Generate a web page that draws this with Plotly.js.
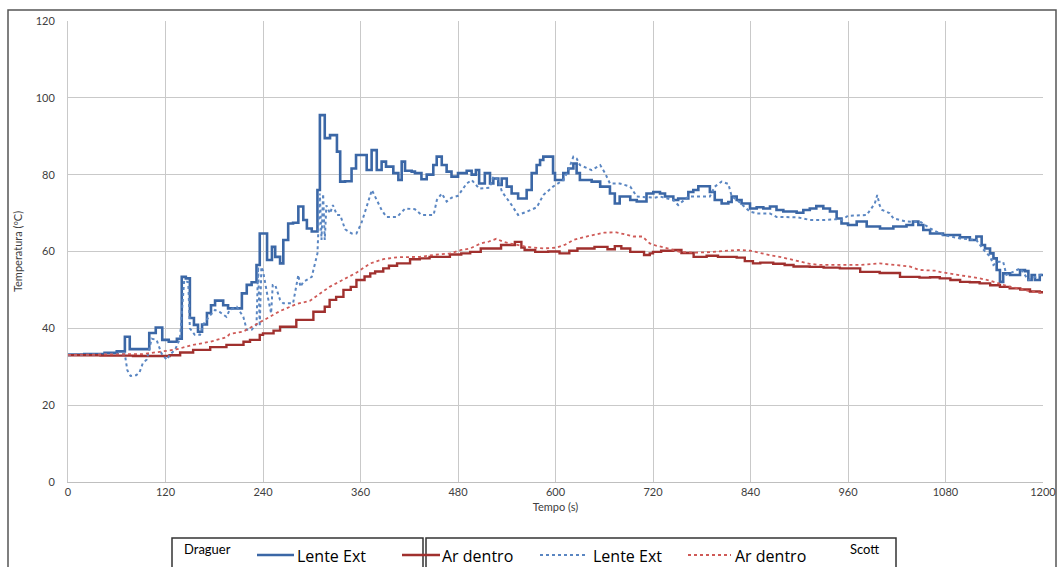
<!DOCTYPE html>
<html>
<head>
<meta charset="utf-8">
<script src="https://cdn.plot.ly/plotly-3.0.1.min.js"></script>
<style>
  html, body { margin: 0; padding: 0; background: #ffffff; }
  #chart { width: 1059px; height: 567px; }
</style>
</head>
<body>
<div id="chart"></div>
<script>
// ---- Data ----
const xTicks = [0, 120, 240, 360, 480, 600, 720, 840, 960, 1080, 1200];
const yTicks = [0, 20, 40, 60, 80, 100, 120];

// Draguer - Lente Ext (solid blue, stepped)
const draguerLenteT = [0,20,45,60,70,76,100,108,116,124,134,140,145,150,155,160,165,171,176,181,191,197,203,214,220,226,232,236,245,251,255,261,265,271,277,283.5,289.6,294,300,307,310,316,322.5,331,335,341,349,354.5,367.6,373.7,380,386,391.4,400.4,406.6,410.7,414.8,423,427,435,441.5,449.6,453.8,460,466,472,480,490.7,496.8,502,506,513,519.4,523.5,529.6,533.8,540,546,554,564.5,570.7,576.8,581,585,597,599.4,609.6,615.8,622,626,630,644.5,655,667,673,679,692,700,712,720.4,728.6,734.8,745,751,763.5,769.6,775.8,790,796,804.5,812.7,816.8,823,829,839.4,847.6,855.8,864,872,880.4,896.8,905,913,921,929.6,937.8,946,952,960,970.7,983,999.4,1015.8,1032,1040,1046.6,1052.7,1061,1077,1097.8,1110,1118,1124.5,1128.6,1134.8,1139,1143,1147,1151,1159.4,1171.7,1177.8,1182,1186,1190,1196,1200];
const draguerLenteV = [33.2,33.3,33.6,34.0,37.8,34.6,38.8,40.2,37.0,36.5,37.3,53.4,53.0,42.7,40.9,39.1,41.0,44.0,46.0,47.2,46.0,45.2,45.2,49.1,51.3,52.0,56.5,64.7,57.8,61.2,58.6,56.9,63.0,67.3,67.5,71.7,68.2,66.0,65.2,76.0,95.5,89.5,90.3,86.0,78.2,78.3,81.6,85.1,81.2,86.4,81.2,83.4,82.1,80.4,78.6,83.4,81.0,80.8,80.4,78.8,80.0,82.5,84.7,82.5,80.8,79.5,80.4,81.0,80.0,81.2,77.7,80.4,77.7,79.0,77.3,79.0,76.9,75.1,73.8,76.0,80.4,82.5,83.8,84.7,80.4,78.6,80.4,81.6,82.9,80.4,78.6,78.2,76.9,75.1,72.5,74.3,73.4,73.0,75.1,75.5,75.1,74.3,73.4,73.8,75.5,76.0,77.0,75.5,73.4,72.5,72.9,74.3,73.4,72.5,71.2,71.5,71.2,71.7,70.8,70.4,70.1,70.8,71.2,71.8,71.2,70.4,68.6,67.3,66.9,67.8,66.5,66.0,66.5,66.9,67.8,66.9,65.6,64.7,64.3,63.7,63.0,63.9,61.7,60.8,59.5,58.2,55.2,52.1,54.3,53.9,55.2,54.9,52.6,53.9,52.6,53.9,53.9];

// Draguer - Ar dentro (solid red, stepped)
const draguerArT = [0,40,80,113,125,138,154,175,195,216,224,236,240,253,261,281,302,316,322,330,339,348,355,365,372,378,388,395,405,421,433,445,458,470,484,495,508,519,533,544,550,558,562,575,591,605,617,627,640,648,664,673,681,692,700,709,716,720,730,745,755,770,786,800,811,823,833,843,852,868,882,893,913,930,950,975,999,1024,1048,1061,1073,1086,1098,1110,1122,1135,1147,1159,1172,1184,1196,1200];
const draguerArV = [33.0,32.9,32.8,32.8,33.0,33.7,34.4,35.1,35.7,36.5,37.0,38.3,38.7,39.4,40.4,42.2,44.3,45.6,47.4,48.2,50.0,50.8,52.6,53.5,54.3,54.8,55.6,56.3,56.9,58.0,58.2,58.6,58.6,59.2,59.5,59.9,60.8,60.8,61.7,61.7,62.5,61.0,60.4,59.9,60.0,59.5,60.2,60.8,60.8,61.2,60.6,61.4,60.8,59.9,59.9,59.1,59.5,59.9,60.2,60.4,59.6,58.6,58.9,58.6,58.6,58.4,57.5,56.9,57.1,56.8,56.5,56.1,56.0,55.8,55.6,54.7,54.4,53.4,53.2,53.3,53.0,52.6,52.1,52.0,51.7,51.2,50.8,50.4,50.1,49.6,49.4,49.3];

// Scott - Lente Ext (dotted blue)
const scottLenteT = [0,60,70,73,77,84,88,92,97,103,109,115,121.5,125.5,131.7,137.8,143,148,150,156,162.5,166.5,172.7,181,187,195,199,207.6,215.8,220,226,232,234,236,238,240,245,250,252,255,261,265,271,277,283.5,286,289.6,300,307,310,312,314,316,318,322.5,326,331,335,341,349,355,361,367.6,374,380,386,392,405,415,427,435,450,454,460,466,472,480,490.7,497,506,519,523.5,530,534,546,554,565,577,585,597,609.6,616,622,626,630,644.5,655,661,667,679,692,700,722,729,745,751,763.5,775,790,796,804.5,812.7,817,823,839,848,864,872,888,897,905,913,930,946,952,960,983,993,996,999,1002,1011,1016,1032,1050,1061,1077,1098,1118,1127,1135,1139,1145,1151,1155,1159,1172,1182,1196,1200];
const scottLenteV = [33.0,33.4,33.2,29.1,27.6,27.8,28.5,30.9,31.9,37.3,37.0,33.5,31.8,33.2,34.4,37.3,52.5,52.0,40.0,38.3,38.3,41.0,42.8,44.8,44.2,43.0,44.8,45.6,43.0,39.6,39.6,41.0,56.0,40.5,56.0,55.0,49.1,43.9,51.3,51.3,47.4,46.5,46.5,46.5,53.9,50.8,52.1,53.4,59.5,75.1,63.0,75.0,63.0,72.0,69.9,72.1,69.5,69.5,65.8,64.7,64.7,67.3,71.7,76.0,73.4,70.8,69.0,69.0,71.2,71.0,69.5,69.5,73.4,75.1,73.0,74.0,74.5,77.7,78.6,76.4,76.6,79.5,78.6,75.6,72.1,69.5,70.4,71.5,74.7,76.9,78.6,81.2,84.7,84.2,82.5,81.2,82.5,80.4,77.7,77.7,76.9,74.3,74.0,74.3,73.4,72.1,74.3,74.3,74.3,76.9,78.2,77.6,74.3,73.5,70.4,69.9,69.9,69.0,69.0,68.9,68.6,68.2,68.2,68.4,68.2,69.3,69.5,72.5,74.7,72.0,70.8,70.0,68.6,67.8,67.6,66.0,64.3,63.4,63.0,60.4,58.6,56.5,57.3,57.3,53.9,54.3,55.6,52.6,53.9,54.2];

// Scott - Ar dentro (dotted red)
const scottArT = [0,60,92,113,133,154,175,195,199,216,236,253,261,281,298,322,339,355,372,388,405,421,433,450,470,484,495,508,518,527,535,544,565,585,601,612,622,638,650,660,675,686,696,707,716,724,735,753,770,786,800,811,825,840,852,865,876,890,901,913,925,950,975,999,1010,1024,1036,1048,1067,1073,1098,1122,1135,1147,1159,1172,1184,1196,1200];
const scottArV = [33.1,33.2,33.3,33.9,34.5,35.7,36.5,37.7,38.5,39.2,41.5,43.5,44.5,46.3,47.2,50.8,52.6,54.5,56.9,58.0,58.5,58.6,58.6,59.1,59.5,60.4,60.8,62.1,62.6,63.3,62.6,62.1,61.2,60.8,61.0,61.8,63.0,63.9,64.5,64.9,65.0,64.5,63.9,63.9,62.1,61.5,61.0,59.9,59.7,59.8,60.0,60.2,60.4,60.2,59.6,59.0,58.6,57.9,57.3,56.8,56.5,56.5,56.5,56.9,56.7,56.5,56.1,55.2,55.0,54.7,53.9,53.0,52.4,51.7,50.8,50.3,49.6,49.3,49.2];

const seriesNames = ['Lente Ext', 'Ar dentro', 'Lente Ext', 'Ar dentro'];
const groupNames = ['Draguer', 'Scott'];

// ---- Styling ----
const BLUE = '#3b67a6';
const RED = '#a0302e';
const BLUE_DOT = '#5a86c2';
const RED_DOT = '#cf5a57';

const traces = [
  { x: draguerLenteT, y: draguerLenteV, name: seriesNames[0], mode: 'lines',
    line: { color: BLUE, width: 2.6, shape: 'hv' } },
  { x: draguerArT, y: draguerArV, name: seriesNames[1], mode: 'lines',
    line: { color: RED, width: 2.4, shape: 'hv' } },
  { x: scottLenteT, y: scottLenteV, name: seriesNames[2], mode: 'lines',
    line: { color: BLUE_DOT, width: 2, dash: 'dot' } },
  { x: scottArT, y: scottArV, name: seriesNames[3], mode: 'lines',
    line: { color: RED_DOT, width: 1.8, dash: 'dot' } }
];

// pixel helpers for paper coordinates (plot area: x 68..1043, y 21..482)
const PL = 68, PR = 1043, PT = 21, PB = 482;
const px = v => (v - PL) / (PR - PL);
const py = v => (PB - v) / (PB - PT);

const shapes = [
  // outer frame
  { type: 'rect', xref: 'paper', yref: 'paper', x0: px(8), x1: px(1056), y0: py(600), y1: py(10),
    line: { color: '#555555', width: 1.5 }, layer: 'below' },
  // legend boxes
  { type: 'rect', xref: 'paper', yref: 'paper', x0: px(172), x1: px(423), y0: py(600), y1: py(538),
    line: { color: '#333333', width: 1.5 } },
  { type: 'rect', xref: 'paper', yref: 'paper', x0: px(426), x1: px(896), y0: py(600), y1: py(538),
    line: { color: '#333333', width: 1.5 } },
  // legend samples
  { type: 'line', xref: 'paper', yref: 'paper', x0: px(257), x1: px(294), y0: py(555), y1: py(555),
    line: { color: BLUE, width: 2.6 } },
  { type: 'line', xref: 'paper', yref: 'paper', x0: px(402), x1: px(440), y0: py(555), y1: py(555),
    line: { color: RED, width: 2.4 } },
  { type: 'line', xref: 'paper', yref: 'paper', x0: px(540), x1: px(588), y0: py(555), y1: py(555),
    line: { color: BLUE_DOT, width: 2, dash: 'dot' } },
  { type: 'line', xref: 'paper', yref: 'paper', x0: px(688), x1: px(731), y0: py(555), y1: py(555),
    line: { color: RED_DOT, width: 1.8, dash: 'dot' } }
];

const LF = '"Open Sans", Lato, "Noto Sans", sans-serif';
const TF = 'Lato, "Open Sans", "Noto Sans", sans-serif';
const annotations = [
  { xref: 'paper', yref: 'paper', x: px(182), y: py(549), xanchor: 'left', yanchor: 'middle', showarrow: false,
    text: groupNames[0], font: { family: TF, size: 13, color: '#000' } },
  { xref: 'paper', yref: 'paper', x: px(881), y: py(549), xanchor: 'right', yanchor: 'middle', showarrow: false,
    text: groupNames[1], font: { family: TF, size: 13, color: '#000' } },
  { xref: 'paper', yref: 'paper', x: px(295), y: py(556), xanchor: 'left', yanchor: 'middle', showarrow: false,
    text: seriesNames[0], font: { family: LF, size: 16, color: '#000' } },
  { xref: 'paper', yref: 'paper', x: px(440), y: py(556), xanchor: 'left', yanchor: 'middle', showarrow: false,
    text: seriesNames[1], font: { family: LF, size: 16, color: '#000' } },
  { xref: 'paper', yref: 'paper', x: px(591), y: py(556), xanchor: 'left', yanchor: 'middle', showarrow: false,
    text: seriesNames[2], font: { family: LF, size: 16, color: '#000' } },
  { xref: 'paper', yref: 'paper', x: px(733), y: py(556), xanchor: 'left', yanchor: 'middle', showarrow: false,
    text: seriesNames[3], font: { family: LF, size: 16, color: '#000' } }
];

const layout = {
  width: 1059, height: 567,
  margin: { l: PL, r: 1059 - PR, t: PT, b: 567 - PB },
  paper_bgcolor: '#ffffff', plot_bgcolor: '#ffffff',
  showlegend: false,
  font: { family: TF, color: '#404040' },
  xaxis: {
    range: [0, 1200], tickvals: xTicks, ticktext: xTicks.map(String),
    showgrid: true, gridcolor: '#c9c9c9', gridwidth: 1,
    zeroline: false, showline: true, linecolor: '#bfbfbf', linewidth: 1,
    ticks: '', tickfont: { size: 11, color: '#404040', family: TF },
    title: { text: 'Tempo (s)', font: { size: 11, color: '#404040', family: TF }, standoff: 6 }
  },
  yaxis: {
    range: [0, 120], tickvals: yTicks, ticktext: yTicks.map(String),
    showgrid: true, gridcolor: '#c9c9c9', gridwidth: 1,
    zeroline: false, showline: true, linecolor: '#c9c9c9', linewidth: 1,
    ticks: '', ticklabelstandoff: 10, tickfont: { size: 11, color: '#404040', family: TF },
    title: { text: 'Temperatura (ºC)', font: { size: 11, color: '#404040', family: TF }, standoff: 10 }
  },
  shapes: shapes,
  annotations: annotations
};

Plotly.newPlot('chart', traces, layout, { displayModeBar: false, staticPlot: true });
</script>
</body>
</html>
